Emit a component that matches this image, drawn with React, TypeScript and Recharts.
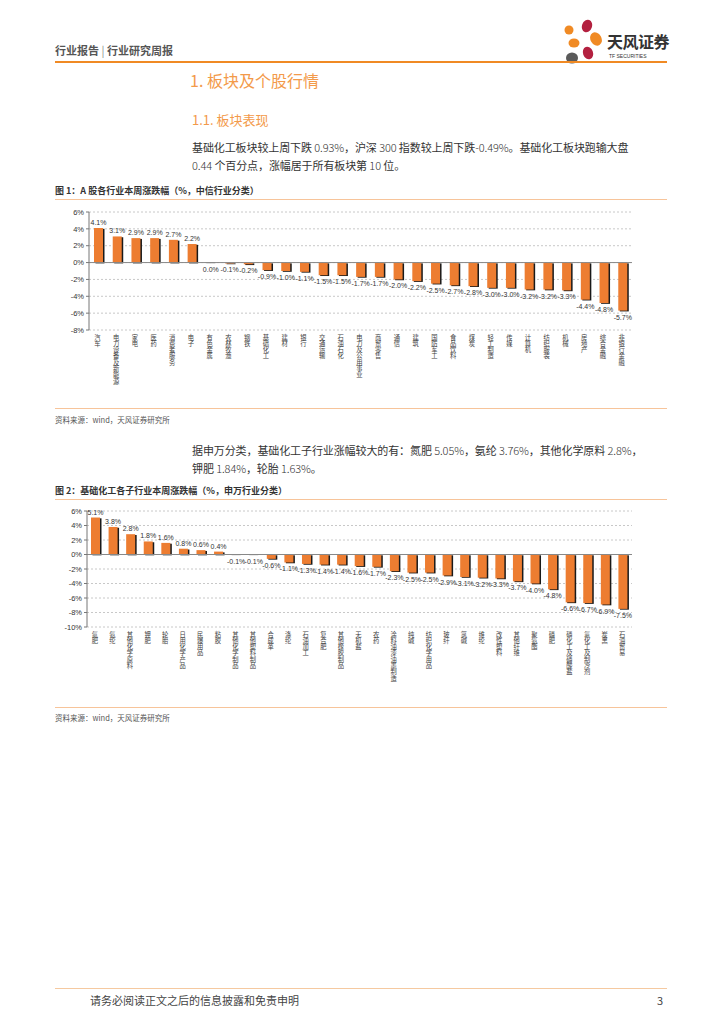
import { Bar, BarChart, CartesianGrid, LabelList, ReferenceLine, XAxis, YAxis } from "recharts";

// 图1：中信一级行业本周涨跌幅
const citicIndustries = [
    "汽车", "电力设备及新能源", "家电", "医药", "消费者服务", "电子", "有色金属", "农林牧渔", "钢铁", "基础化工",
    "建材", "银行", "交通运输", "石油石化", "电力及公用事业", "商贸零售", "通信", "建筑", "国防军工", "食品饮料",
    "煤炭", "轻工制造", "传媒", "计算机", "纺织服装", "机械", "房地产", "综合金融", "非银行金融",
];
const citicChange = [
    4.1, 3.1, 2.9, 2.9, 2.7, 2.2, 0.0, -0.1, -0.2, -0.9,
    -1.0, -1.1, -1.5, -1.5, -1.7, -1.7, -2.0, -2.2, -2.5, -2.7,
    -2.8, -3.0, -3.0, -3.2, -3.2, -3.3, -4.4, -4.8, -5.7,
];
const citicTicks = [6, 4, 2, 0, -2, -4, -6, -8];

// 图2：申万基础化工子行业本周涨跌幅
const swSubIndustries = [
    "氮肥", "氨纶", "其他化学原料", "钾肥", "轮胎", "日用化学产品", "民爆用品", "粘胶", "其他化学制品", "其他塑料制品",
    "合成革", "涤纶", "石油加工", "复合肥", "其他橡胶制品", "无机盐", "农药", "涂料油漆油墨制造", "纯碱", "纺织化学用品",
    "玻纤", "氯碱", "维纶", "改性塑料", "其他纤维", "聚氨酯", "磷肥", "磷化工及磷酸盐", "氟化工及制冷剂", "炭黑", "石油贸易",
];
const swChange = [
    5.1, 3.8, 2.8, 1.8, 1.6, 0.8, 0.6, 0.4, -0.1, -0.1,
    -0.6, -1.1, -1.3, -1.4, -1.4, -1.6, -1.7, -2.3, -2.5, -2.5,
    -2.9, -3.1, -3.2, -3.3, -3.7, -4.0, -4.8, -6.6, -6.7, -6.9, -7.5,
];
const swTicks = [6, 4, 2, 0, -2, -4, -6, -8, -10];

const citicData = citicIndustries.map((name, i) => ({ name, value: citicChange[i] }));
const swData = swSubIndustries.map((name, i) => ({ name, value: swChange[i] }));

const ORANGE = "#ED7D31";
const CJK = "'Noto Sans CJK SC', 'Noto Sans', sans-serif";
const LATIN = "Arial, 'Liberation Sans', sans-serif";

const ShadowBar = (props: any) => {
    const { x, y, width, height } = props;
    const top = Math.min(y, y + height);
    const h = Math.abs(height);
    if (h < 0.8) {
        return <rect x={x} y={top - 0.5} width={width} height={1.2} fill="#999" />;
    }
    return (
        <g>
            <rect x={x + 1.5} y={top + 0.8} width={width} height={h} fill="#1a1a1a" />
            <rect x={x} y={top} width={width} height={h} fill={ORANGE} />
        </g>
    );
};

const ValueLabel = (props: any) => {
    const { x, y, width, height, value } = props;
    const top = Math.min(y, y + height);
    const bottom = Math.max(y, y + height);
    const below = value <= 0;
    return (
        <text
            x={x + width / 2}
            y={below ? bottom + 9 : top - 3}
            textAnchor="middle"
            fontSize={7}
            fill="#333"
            fontFamily={LATIN}
        >
            {value.toFixed(1)}%
        </text>
    );
};

// vertical (top-to-bottom) CJK category label as a single text element
const VerticalTick = (props: any) => {
    const { x, y, payload } = props;
    return (
        <text
            x={x - 1}
            y={y}
            fontSize={6.3}
            fill="#444"
            fontFamily={CJK}
            style={{ writingMode: "vertical-rl", textOrientation: "upright" } as any}
        >
            {payload.value}
        </text>
    );
};

const IndustryBars = ({
    data,
    ticks,
    barSize,
    height,
    xAxisHeight,
    marginTop,
    yAxisWidth,
    labelOffset,
}: {
    data: { name: string; value: number }[];
    ticks: number[];
    barSize: number;
    height: number;
    xAxisHeight: number;
    marginTop: number;
    yAxisWidth: number;
    labelOffset: number;
}) => (
    <BarChart
        width={585}
        height={height}
        data={data}
        margin={{ top: marginTop, right: 8, bottom: 3, left: 0 }}
        barCategoryGap="0%"
    >
        <CartesianGrid vertical={false} stroke="#c8c8c8" strokeDasharray="2 2" />
        <XAxis
            dataKey="name"
            interval={0}
            axisLine={false}
            tickLine={false}
            height={xAxisHeight}
            tick={(p: any) => <VerticalTick {...p} y={p.y + labelOffset} />}
        />
        <YAxis
            width={yAxisWidth}
            domain={[ticks[ticks.length - 1], ticks[0]]}
            ticks={ticks}
            interval={0}
            tickFormatter={(v: number) => `${v}%`}
            axisLine={{ stroke: "#777" }}
            tickLine={{ stroke: "#777" }}
            tickSize={3}
            tick={{ fontSize: 7.5, fill: "#333", fontFamily: LATIN }}
        />
        <ReferenceLine y={0} stroke="#888" />
        <Bar dataKey="value" barSize={barSize} shape={<ShadowBar />} isAnimationActive={false}>
            <LabelList dataKey="value" content={<ValueLabel />} />
        </Bar>
    </BarChart>
);

const Logo = () => (
    <svg width={44} height={46} style={{ position: "absolute", left: 560, top: 19 }}>
        <ellipse cx={9} cy={11} rx={4.5} ry={4.5} fill="#F08A24" />
        <ellipse cx={27} cy={7} rx={5} ry={6.5} fill="#B3203F" transform="rotate(20 27 7)" />
        <ellipse cx={36} cy={20} rx={5.5} ry={7} fill="#F08A24" transform="rotate(-30 36 20)" />
        <ellipse cx={14} cy={24} rx={5.5} ry={4.5} fill="#F08A24" />
        <ellipse cx={28} cy={34} rx={5} ry={6.5} fill="#B3203F" transform="rotate(-20 28 34)" />
        <ellipse cx={12} cy={39} rx={6} ry={5.5} fill="#5a5a5a" />
    </svg>
);

const abs = (left: number, top: number, extra: any = {}) => ({ position: "absolute" as const, left, top, ...extra });

export default function App() {
    return (
        <div
            style={{
                position: "absolute",
                left: 0,
                top: 0,
                width: 724,
                height: 1024,
                background: "#fff",
                overflow: "hidden",
                fontFamily: CJK,
                color: "#333",
            }}
        >
            {/* header */}
            <div style={abs(55, 42, { fontSize: 11, fontWeight: 700, color: "#555", lineHeight: "16px", whiteSpace: "pre" })}>
                行业报告 <span style={{ fontWeight: 400, color: "#888" }}>|</span> 行业研究周报
            </div>
            <Logo />
            <div style={abs(607, 31, { fontSize: 16, fontWeight: 700, color: "#333", lineHeight: "20px", letterSpacing: -0.5 })}>天风证券</div>
            <div style={abs(609, 52, { fontSize: 5, color: "#333", lineHeight: "8px", fontFamily: LATIN })}>TF SECURITIES</div>
            <div style={abs(55, 61, { width: 612, height: 1.5, background: "#F08A24" })} />

            <div style={abs(190, 69, { fontSize: 16, color: "#F39A4A", lineHeight: "22px" })}>1. 板块及个股行情</div>
            <div style={abs(192, 111, { fontSize: 13, color: "#F39A4A", lineHeight: "18px" })}>1.1. 板块表现</div>

            <div style={abs(192, 138, { fontSize: 11, lineHeight: "18px", color: "#333", whiteSpace: "nowrap", letterSpacing: -0.1 })}>
                基础化工板块较上周下跌 <span style={{ fontWeight: 300 }}>0.93%</span>，沪深 <span style={{ fontWeight: 300 }}>300</span> 指数较上周下跌<span style={{ fontWeight: 300 }}>-0.49%</span>。基础化工板块跑输大盘
                <br />
                <span style={{ fontWeight: 300 }}>0.44</span> 个百分点，涨幅居于所有板块第 <span style={{ fontWeight: 300 }}>10</span> 位。
            </div>

            {/* figure 1 */}
            <div style={abs(55, 184, { fontSize: 9, fontWeight: 700, color: "#333", lineHeight: "14px" })}>
                图 1：A 股各行业本周涨跌幅（%，中信行业分类）
            </div>
            <div style={abs(55, 199, { width: 612, height: 1, background: "#F7C49A" })} />
            <div style={abs(55, 200)}>
                <IndustryBars
                    data={citicData}
                    ticks={citicTicks}
                    barSize={9}
                    height={205}
                    xAxisHeight={72}
                    marginTop={12}
                    yAxisWidth={34}
                    labelOffset={-4}
                />
            </div>
            <div style={abs(55, 408, { width: 612, height: 1, background: "#F7C49A" })} />
            <div style={abs(55, 414, { fontSize: 7.5, color: "#555", lineHeight: "12px" })}>资料来源：wind，天风证券研究所</div>

            <div style={abs(192, 441, { fontSize: 11, lineHeight: "18px", color: "#333", whiteSpace: "nowrap", letterSpacing: -0.1 })}>
                据申万分类，基础化工子行业涨幅较大的有：氮肥 <span style={{ fontWeight: 300 }}>5.05%</span>，氨纶 <span style={{ fontWeight: 300 }}>3.76%</span>，其他化学原料 <span style={{ fontWeight: 300 }}>2.8%</span>，
                <br />
                钾肥 <span style={{ fontWeight: 300 }}>1.84%</span>，轮胎 <span style={{ fontWeight: 300 }}>1.63%</span>。
            </div>

            {/* figure 2 */}
            <div style={abs(55, 484, { fontSize: 9, fontWeight: 700, color: "#333", lineHeight: "14px" })}>
                图 2：基础化工各子行业本周涨跌幅（%，申万行业分类）
            </div>
            <div style={abs(55, 499, { width: 612, height: 1, background: "#F7C49A" })} />
            <div style={abs(55, 500)}>
                <IndustryBars
                    data={swData}
                    ticks={swTicks}
                    barSize={9}
                    height={205}
                    xAxisHeight={75}
                    marginTop={11}
                    yAxisWidth={32}
                    labelOffset={-4}
                />
            </div>
            <div style={abs(55, 707, { width: 612, height: 1, background: "#F7C49A" })} />
            <div style={abs(55, 712, { fontSize: 7.5, color: "#555", lineHeight: "12px" })}>资料来源：wind，天风证券研究所</div>

            {/* footer */}
            <div style={abs(55, 988, { width: 612, height: 1, background: "#F5C9A0" })} />
            <div style={abs(90, 992, { fontSize: 11, color: "#444", lineHeight: "16px" })}>请务必阅读正文之后的信息披露和免责申明</div>
            <div style={abs(657, 992, { fontSize: 11, color: "#444", lineHeight: "16px" })}>3</div>
        </div>
    );
}
